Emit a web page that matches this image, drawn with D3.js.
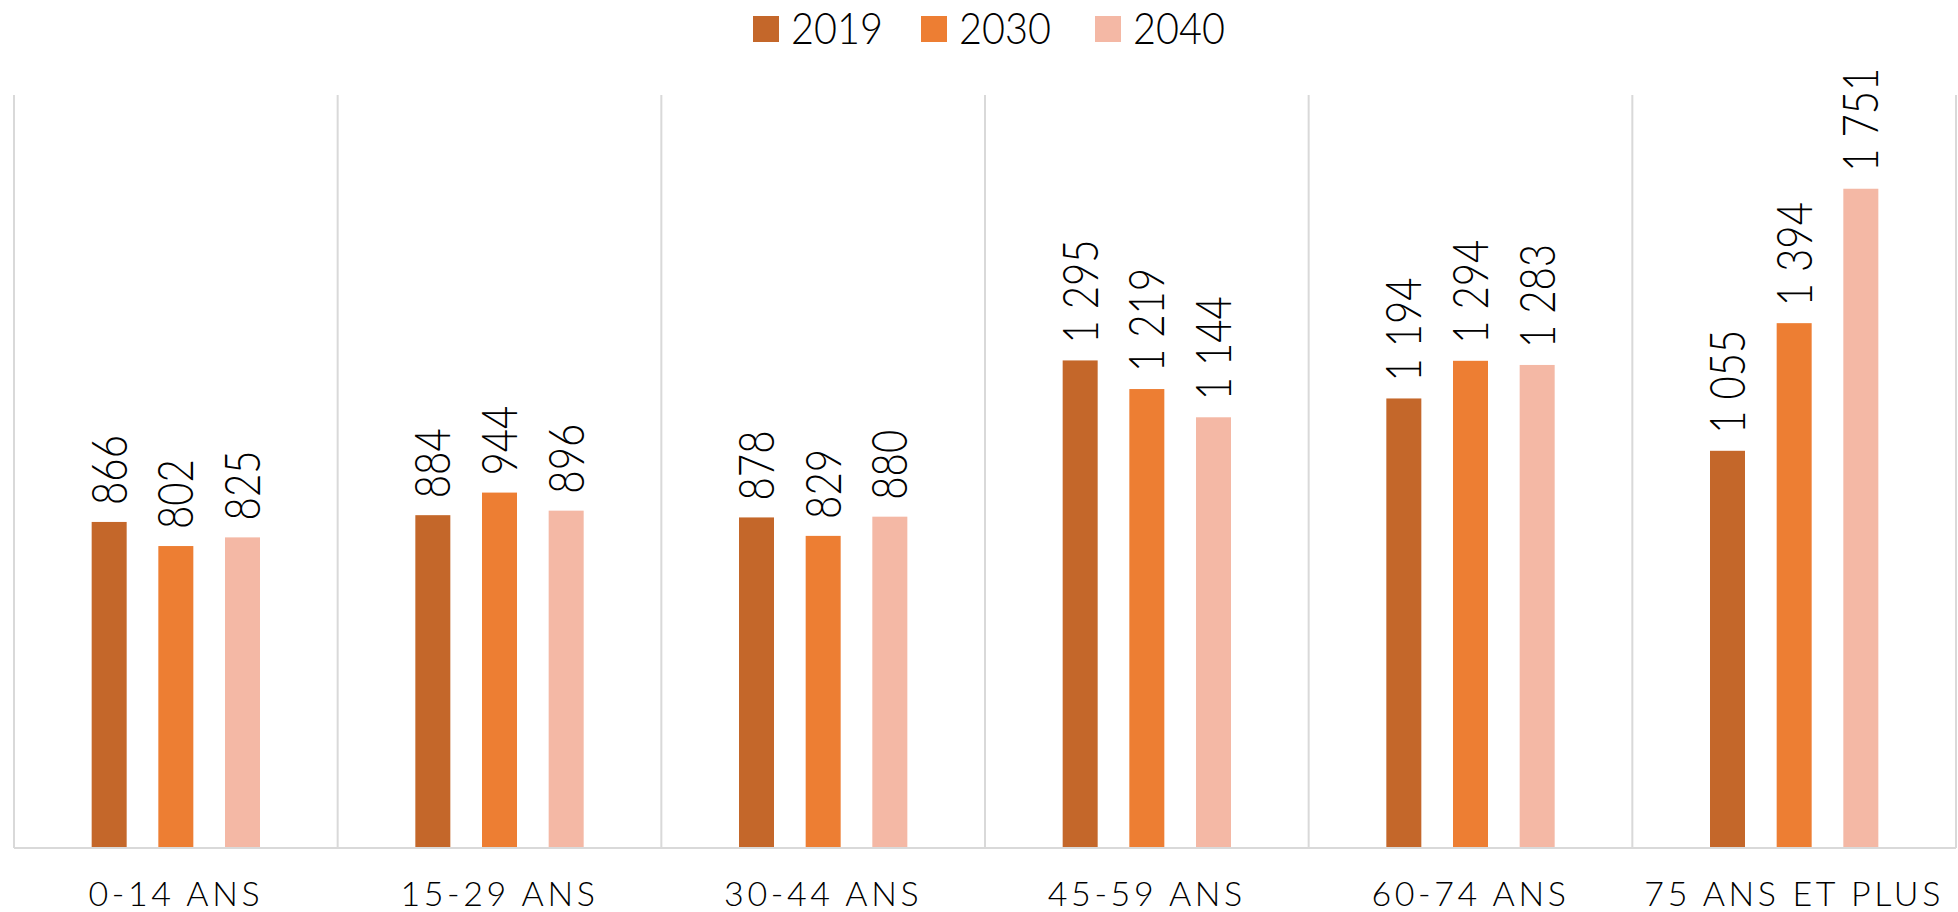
<!DOCTYPE html>
<html><head><meta charset="utf-8">
<script src="https://cdn.jsdelivr.net/npm/d3@7"></script>
<style>
body{margin:0;background:#fff;}
text{font-family:"Lato","Open Sans",sans-serif;font-weight:300;fill:#000;}
</style></head>
<body><svg id="c" width="1958" height="912"></svg>
<script>
const categories = ["0-14 ANS","15-29 ANS","30-44 ANS","45-59 ANS","60-74 ANS","75 ANS ET PLUS"];
const seriesNames = ["2019","2030","2040"];
const values2019 = [866, 884, 878, 1295, 1194, 1055];
const values2030 = [802, 944, 829, 1219, 1294, 1394];
const values2040 = [825, 896, 880, 1144, 1283, 1751];
const colors = ["#C4672A","#ED7E33","#F4B8A5"];

(function(){
const svg = d3.select("#c");
const pLeft=14,pRight=1956,pTop=95,pBottom=848;
const seriesVals=[values2019,values2030,values2040];

const x = d3.scaleBand().domain(categories).range([pLeft,pRight]).padding(0);
const y = d3.scaleLinear().domain([0,2000]).range([pBottom,pTop]);
const inner = d3.scaleBand().domain(seriesNames).range([0,200]).paddingInner(0.475).paddingOuter(0.2375);

const fmt = v => { const s=String(v); return s.length>3 ? s.slice(0,s.length-3)+" "+s.slice(-3) : s; };

const bounds = categories.map(c=>x(c)).concat([x(categories[categories.length-1])+x.bandwidth()]);
svg.append("g").selectAll("line").data(bounds).join("line")
  .attr("x1",d=>d).attr("x2",d=>d).attr("y1",pTop).attr("y2",pBottom)
  .attr("stroke","#D9D9D9").attr("stroke-width",2);

categories.forEach((c,ci)=>{
  const cx = x(c)+x.bandwidth()/2-100;
  seriesNames.forEach((s,si)=>{
    const v=seriesVals[si][ci];
    const bx=cx+inner(s);
    svg.append("rect").attr("x",bx).attr("y",y(v)).attr("width",inner.bandwidth())
      .attr("height",pBottom-y(v)).attr("fill",colors[si]);
    svg.append("text").attr("transform",`translate(${bx+inner.bandwidth()/2+17.5},${y(v)-17}) rotate(-90) scale(0.82,1)`)
      .attr("font-size",49).text(fmt(v));
  });
});

svg.append("line").attr("x1",pLeft).attr("x2",pRight).attr("y1",pBottom).attr("y2",pBottom)
  .attr("stroke","#D9D9D9").attr("stroke-width",2);

svg.append("g").selectAll("text").data(categories).join("text")
  .attr("x",d=>x(d)+x.bandwidth()/2).attr("y",906)
  .attr("text-anchor","middle").attr("font-size",34).attr("letter-spacing","3.6px").text(d=>d);

const legX=[753,921,1095];
seriesNames.forEach((s,i)=>{
  svg.append("rect").attr("x",legX[i]).attr("y",16).attr("width",26).attr("height",26).attr("fill",colors[i]);
  svg.append("text").attr("transform",`translate(${legX[i]+38},44) scale(0.9,1)`).attr("font-size",44).text(s);
});
})();
</script></body></html>
